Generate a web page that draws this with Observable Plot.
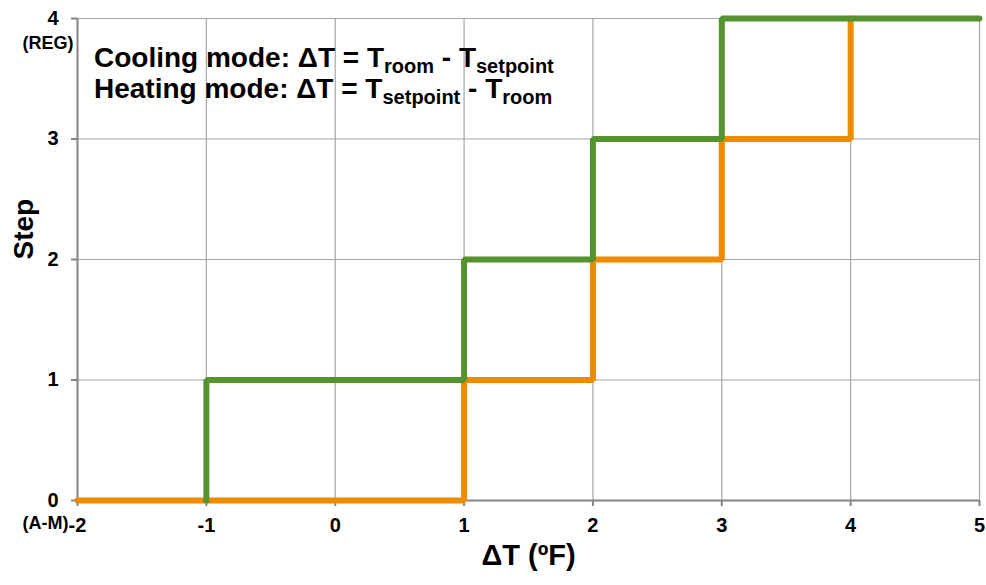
<!DOCTYPE html>
<html>
<head>
<meta charset="utf-8">
<script src="https://cdn.jsdelivr.net/npm/d3@7"></script>
<script src="https://cdn.jsdelivr.net/npm/@observablehq/plot@0.6"></script>
<style>
  html, body { margin: 0; padding: 0; background: #fff; }
  #chart svg { display: block; }
</style>
</head>
<body>
<div id="chart"></div>
<script>
// Tick values
const xTicks = [-2, -1, 0, 1, 2, 3, 4, 5];
const yTicks = [0, 1, 2, 3, 4];
const yNoteValues = [0, 4];
const yNoteLabels = ["(A-M)", "(REG)"];

// Orange series (step-after vertices)
const orangeX = [-2, 1, 2, 3, 4];
const orangeY = [0, 1, 2, 3, 4];
// Green series (step-after vertices)
const greenX = [-1, -1, 1, 2, 3, 5];
const greenY = [0, 1, 2, 3, 4, 4];

const orangeData = orangeX.map((x, i) => ({x, y: orangeY[i]}));
const greenData = greenX.map((x, i) => ({x, y: greenY[i]}));
const notes = yNoteValues.map((y, i) => ({y, label: yNoteLabels[i]}));

const FONT = "'Liberation Sans', Arial, sans-serif";

const plot = Plot.plot({
  width: 986,
  height: 585,
  marginLeft: 77,
  marginRight: 7,
  marginTop: 18,
  marginBottom: 85,
  style: {fontFamily: FONT, fontWeight: "bold", color: "#000", background: "#fff"},
  x: {domain: [-2, 5]},
  y: {domain: [0, 4]},
  marks: [
    Plot.gridX(xTicks, {stroke: "#a6a6a6", strokeOpacity: 1, strokeWidth: 1.2}),
    Plot.gridY(yTicks, {stroke: "#a6a6a6", strokeOpacity: 1, strokeWidth: 1.2}),
    Plot.ruleX([-2], {stroke: "#868686", strokeWidth: 2}),
    Plot.ruleY([0], {stroke: "#868686", strokeWidth: 2}),
    Plot.axisX(xTicks, {tickSize: 6, tickPadding: 11, fontSize: 20, stroke: "#868686", strokeWidth: 2, label: null, tickFormat: d => String(d).replace("−", "-")}),
    Plot.axisY(yTicks, {tickSize: 6, tickPadding: 13, fontSize: 20, stroke: "#868686", strokeWidth: 2, label: null, tickFormat: d => String(d)}),
    Plot.text(notes.filter(d => d.y > 0), {y: "y", frameAnchor: "left", text: "label", textAnchor: "end", dx: -4, dy: 25, fontSize: 18}),
    Plot.text(notes.filter(d => d.y === 0), {y: "y", frameAnchor: "left", text: "label", textAnchor: "end", dx: -9, dy: 23, fontSize: 18}),
    Plot.line(orangeData, {x: "x", y: "y", curve: "step-after", stroke: "#ee8a00", strokeWidth: 6, strokeLinejoin: "miter"}),
    Plot.line(greenData, {x: "x", y: "y", curve: "step-after", stroke: "#56922f", strokeWidth: 6, strokeLinejoin: "miter"}),
    Plot.text(["ΔT (ºF)"], {frameAnchor: "bottom", text: d => d, dy: 64, fontSize: 29}),
    Plot.text(["Step"], {frameAnchor: "left", text: d => d, dx: -53, rotate: -90, fontSize: 28})
  ]
});

document.getElementById("chart").appendChild(plot);

// Annotation with subscripts
const sx = plot.scale("x");
const sy = plot.scale("y");
const x0 = sx.apply(-2) + 17;
const svg = d3.select(plot);
const ann = svg.append("g")
  .attr("font-family", FONT).attr("font-weight", "bold")
  .attr("fill", "#000").attr("text-anchor", "start");
const lines = [
  [["Cooling mode: ΔT = T", 0], ["room", 1], [" - T", 0], ["setpoint", 1]],
  [["Heating mode: ΔT = T", 0], ["setpoint", 1], [" - T", 0], ["room", 1]]
];
const baselines = [sy.apply(4) + 49, sy.apply(4) + 80];
lines.forEach((parts, li) => {
  const t = ann.append("text").attr("x", x0).attr("y", baselines[li]).attr("font-size", 28);
  let prevSub = false;
  parts.forEach(([s, sub]) => {
    const ts = t.append("tspan").text(s);
    if (sub) { ts.attr("font-size", 20).attr("dy", 6); prevSub = true; }
    else { ts.attr("font-size", 28); if (prevSub) ts.attr("dy", -6); prevSub = false; }
  });
});
</script>
</body>
</html>
